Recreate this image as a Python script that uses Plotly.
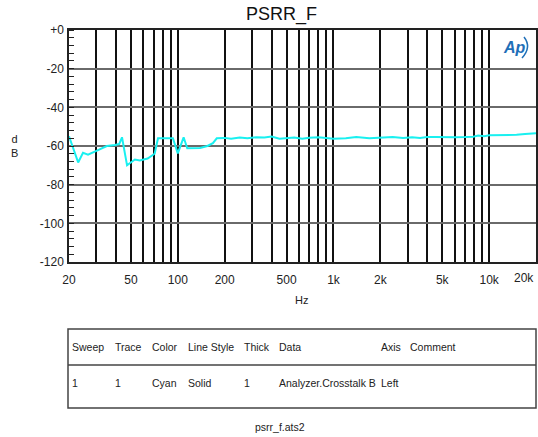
import math
import plotly.graph_objects as go

# ---- data ----
freq_hz = [20, 22.9, 24.6, 26.5, 30, 35, 39.5, 42, 43.8, 47.2, 53, 57, 64, 71, 74.6, 85, 93,
           100, 109, 115, 139, 155, 168, 178, 200, 220, 250, 280, 320, 360, 400, 450, 500,
           560, 630, 700, 800, 900, 1000, 1200, 1400, 1700, 2000, 2400, 2800, 3200, 3600,
           4000, 4500, 5000, 6000, 7000, 7900, 8500, 9300, 10000, 12500, 15000, 17000, 20000]
level_db = [-55, -68.5, -63.5, -64.5, -62.5, -60, -59.5, -59, -55.5, -70, -67, -67.5, -66.5,
            -64, -56, -56, -56, -63.8, -55.5, -61.2, -61, -60, -58.5, -56, -55.8, -56.3,
            -55.6, -56, -55.5, -55.6, -55.1, -56.2, -56, -55.6, -56.3, -55.7, -55.5, -55.8,
            -56.2, -56, -55.4, -56, -55.6, -55.4, -55.9, -55.5, -55.8, -55.3, -55.4, -55.5,
            -55.5, -55.4, -55.2, -54.6, -55, -54.4, -54.4, -54.2, -53.8, -53.4]

x_grid = [20, 30, 40, 50, 60, 70, 80, 90, 100, 200, 300, 400, 500, 600, 700, 800, 900,
          1000, 2000, 3000, 4000, 5000, 6000, 7000, 8000, 9000, 10000, 20000]
x_labels = {20: "20", 50: "50", 100: "100", 200: "200", 500: "500", 1000: "1k",
            2000: "2k", 5000: "5k", 10000: "10k"}
x_last_label = (20000, "20k")
y_ticks = [0, -20, -40, -60, -80, -100, -120]
y_labels = ["+0", "-20", "-40", "-60", "-80", "-100", "-120"]

table_header = ["Sweep", "Trace", "Color", "Line Style", "Thick", "Data", "Axis", "Comment"]
table_row = ["1", "1", "Cyan", "Solid", "1", "Analyzer.Crosstalk B", "Left", ""]

# ---- geometry ----
W, H = 538, 437
L, R, T, B = 69, 536, 30, 262
FONT = "Liberation Sans, Arial, sans-serif"
TXT = "#222"

def px(x):
    return (x - L) / (R - L)

def py(y):
    return (B - y) / (B - T)

fig = go.Figure()
fig.add_trace(go.Scatter(x=freq_hz, y=level_db, mode="lines",
                         line=dict(color="#19F0F0", width=2), hoverinfo="skip"))

fig.update_layout(
    width=W, height=H,
    margin=dict(l=L, r=W - R, t=T, b=H - B, autoexpand=False),
    paper_bgcolor="white", plot_bgcolor="white",
    showlegend=False,
    font=dict(family=FONT, size=11, color=TXT),
)
fig.update_xaxes(
    type="log", range=[1.30103, 4.30103], automargin=False,
    tickmode="array", tickvals=x_grid,
    ticktext=[x_labels.get(v, "") for v in x_grid],
    showgrid=True, gridcolor="#111", gridwidth=1.5,
    showline=True, linecolor="#222", linewidth=1.5, mirror=True,
    ticks="", ticklabelstandoff=6, ticklabeloverflow="allow",
    tickfont=dict(family=FONT, size=12, color=TXT),
    zeroline=False,
)
fig.update_yaxes(
    range=[-120, 0], automargin=False,
    tickmode="array", tickvals=y_ticks, ticktext=y_labels,
    showgrid=True, gridcolor="#6a6a6a", gridwidth=2,
    showline=True, linecolor="#222", linewidth=1.5, mirror=True,
    ticks="", ticklabelstandoff=1, ticklabeloverflow="allow",
    tickfont=dict(family=FONT, size=12, color=TXT),
    minor=dict(tickmode="linear", tick0=0, dtick=4, ticks="inside", ticklen=5,
               tickcolor="#222", tickwidth=1, showgrid=False),
    zeroline=False,
)

def note(text, x, y, size=10.5, xanchor="center", color=TXT, family=FONT):
    return dict(text=text, x=px(x), y=py(y), xref="paper", yref="paper",
                xanchor=xanchor, yanchor="middle", showarrow=False,
                font=dict(family=family, size=size, color=color))

ann = []
ann.append(note("PSRR_F", 281, 15, size=18, color="#111"))
ann.append(note("d<br>B", 14, 146, size=11))
ann.append(note("Hz", 301, 300, size=11))
ann.append(note("<b><i>Ap</i></b>", 514, 47, size=16, color="#1f6fb8"))
ann.append(dict(text=x_last_label[1], x=math.log10(x_last_label[0]), y=py(278),
                xref="x", yref="paper", xanchor="right", yanchor="middle",
                showarrow=False, font=dict(family=FONT, size=12, color=TXT)))

col_x = [70, 113, 150, 186, 242, 277, 379, 408]
for cx, h, r in zip(col_x, table_header, table_row):
    ann.append(note(h, cx, 347, xanchor="left"))
    if r:
        ann.append(note(r, cx, 383, xanchor="left"))
ann.append(note("psrr_f.ats2", 280, 427))
fig.update_layout(annotations=ann)

shapes = [
    dict(type="rect", xref="paper", yref="paper", x0=px(68), x1=px(536), y0=py(329), y1=py(408),
         line=dict(color="#444", width=1.5)),
    dict(type="line", xref="paper", yref="paper", x0=px(68), x1=px(536), y0=py(365), y1=py(365),
         line=dict(color="#444", width=1.5)),
    dict(type="path", xref="paper", yref="paper",
         path=f"M {px(524)} {py(37)} Q {px(532)} {py(47)} {px(522)} {py(58)}",
         line=dict(color="#1f6fb8", width=1.5)),
]
fig.update_layout(shapes=shapes)

fig.write_html("out.html", config={"displayModeBar": False},
               post_script="document.body.style.margin='0';document.body.style.padding='0';")
